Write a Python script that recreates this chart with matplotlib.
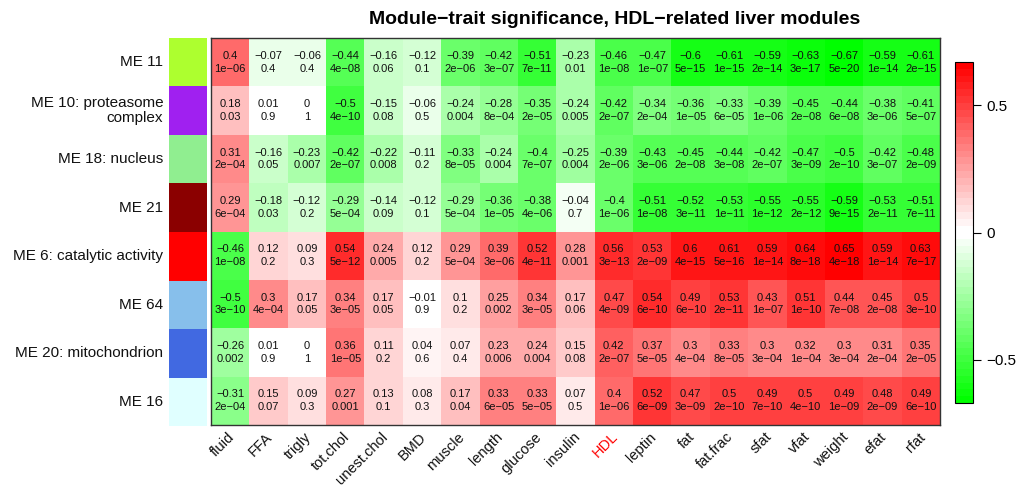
import numpy as np
import matplotlib
matplotlib.use("Agg")
import matplotlib.pyplot as plt
from matplotlib.colors import ListedColormap, Normalize

plt.rcParams['font.family'] = ['Liberation Sans', 'DejaVu Sans']

modules = ["ME 11", "ME 10: proteasome\ncomplex", "ME 18: nucleus", "ME 21",
           "ME 6: catalytic activity", "ME 64", "ME 20: mitochondrion", "ME 16"]
module_colors = ["#ADFF2F", "#A020F0", "#90EE90", "#8B0000",
                 "#FF0000", "#87BFEB", "#4169E1", "#E0FFFF"]
traits = ["fluid", "FFA", "trigly", "tot.chol", "unest.chol", "BMD", "muscle",
          "length", "glucose", "insulin", "HDL", "leptin", "fat", "fat.frac",
          "sfat", "vfat", "weight", "efat", "rfat"]

cor_me11 = [0.4, -0.07, -0.06, -0.44, -0.16, -0.12, -0.39, -0.42, -0.51, -0.23,
            -0.46, -0.47, -0.6, -0.61, -0.59, -0.63, -0.67, -0.59, -0.61]
cor_me10 = [0.18, 0.01, 0, -0.5, -0.15, -0.06, -0.24, -0.28, -0.35, -0.24,
            -0.42, -0.34, -0.36, -0.33, -0.39, -0.45, -0.44, -0.38, -0.41]
cor_me18 = [0.31, -0.16, -0.23, -0.42, -0.22, -0.11, -0.33, -0.24, -0.4, -0.25,
            -0.39, -0.43, -0.45, -0.44, -0.42, -0.47, -0.5, -0.42, -0.48]
cor_me21 = [0.29, -0.18, -0.12, -0.29, -0.14, -0.12, -0.29, -0.36, -0.38, -0.04,
            -0.4, -0.51, -0.52, -0.53, -0.55, -0.55, -0.59, -0.53, -0.51]
cor_me6 = [-0.46, 0.12, 0.09, 0.54, 0.24, 0.12, 0.29, 0.39, 0.52, 0.28,
           0.56, 0.53, 0.6, 0.61, 0.59, 0.64, 0.65, 0.59, 0.63]
cor_me64 = [-0.5, 0.3, 0.17, 0.34, 0.17, -0.01, 0.1, 0.25, 0.34, 0.17,
            0.47, 0.54, 0.49, 0.53, 0.43, 0.51, 0.44, 0.45, 0.5]
cor_me20 = [-0.26, 0.01, 0, 0.36, 0.11, 0.04, 0.07, 0.23, 0.24, 0.15,
            0.42, 0.37, 0.3, 0.33, 0.3, 0.32, 0.3, 0.31, 0.35]
cor_me16 = [-0.31, 0.15, 0.09, 0.27, 0.13, 0.08, 0.17, 0.33, 0.33, 0.07,
            0.4, 0.52, 0.47, 0.5, 0.49, 0.5, 0.49, 0.48, 0.49]

p_me11 = [1e-06, 0.4, 0.4, 4e-08, 0.06, 0.1, 2e-06, 3e-07, 7e-11, 0.01,
          1e-08, 1e-07, 5e-15, 1e-15, 2e-14, 3e-17, 5e-20, 1e-14, 2e-15]
p_me10 = [0.03, 0.9, 1, 4e-10, 0.08, 0.5, 0.004, 8e-04, 2e-05, 0.005,
          2e-07, 2e-04, 1e-05, 6e-05, 1e-06, 2e-08, 6e-08, 3e-06, 5e-07]
p_me18 = [2e-04, 0.05, 0.007, 2e-07, 0.008, 0.2, 8e-05, 0.004, 7e-07, 0.004,
          2e-06, 3e-06, 2e-08, 3e-08, 2e-07, 3e-09, 2e-10, 3e-07, 2e-09]
p_me21 = [6e-04, 0.03, 0.2, 5e-04, 0.09, 0.1, 5e-04, 1e-05, 4e-06, 0.7,
          1e-06, 1e-08, 3e-11, 1e-11, 1e-12, 2e-12, 9e-15, 2e-11, 7e-11]
p_me6 = [1e-08, 0.2, 0.3, 5e-12, 0.005, 0.2, 5e-04, 3e-06, 4e-11, 0.001,
         3e-13, 2e-09, 4e-15, 5e-16, 1e-14, 8e-18, 4e-18, 1e-14, 7e-17]
p_me64 = [3e-10, 4e-04, 0.05, 3e-05, 0.05, 0.9, 0.2, 0.002, 3e-05, 0.06,
          4e-09, 6e-10, 6e-10, 2e-11, 1e-07, 1e-10, 7e-08, 2e-08, 3e-10]
p_me20 = [0.002, 0.9, 1, 1e-05, 0.2, 0.6, 0.4, 0.006, 0.004, 0.08,
          2e-07, 5e-05, 4e-04, 8e-05, 3e-04, 1e-04, 3e-04, 2e-04, 2e-05]
p_me16 = [2e-04, 0.07, 0.3, 0.001, 0.1, 0.3, 0.04, 6e-05, 5e-05, 0.5,
          1e-06, 6e-09, 3e-09, 2e-10, 7e-10, 4e-10, 1e-09, 2e-09, 6e-10]

cor = np.array([cor_me11, cor_me10, cor_me18, cor_me21,
                cor_me6, cor_me64, cor_me20, cor_me16])
pval = np.array([p_me11, p_me10, p_me18, p_me21,
                 p_me6, p_me64, p_me20, p_me16])


def fmt_cor(c):
    return f"{c:g}".replace("-", "\u2212")


def fmt_p(p):
    s = f"{p:g}" if p >= 1e-3 else f"{p:.0e}"
    return s.replace("-", "\u2212")


# green - white - red palette, 50 steps
n = 50
half = n // 2
red = np.r_[np.linspace(0, 1, half), np.ones(half)]
green = np.r_[np.ones(half), np.linspace(1, 0, half)]
blue = np.r_[np.linspace(0, 1, half), np.linspace(1, 0, half)]
cmap = ListedColormap(np.c_[red, green, blue])
zmax = 0.67
norm = Normalize(-zmax, zmax)

W, H = 1022, 487
fig = plt.figure(figsize=(W / 100, H / 100), dpi=100)


def px_axes(x0, y0, x1, y1):
    return fig.add_axes([x0 / W, 1 - y1 / H, (x1 - x0) / W, (y1 - y0) / H])


nr, nc = cor.shape

# heatmap
ax = px_axes(211, 38, 940, 425)
ax.pcolormesh(np.arange(nc + 1), np.arange(nr + 1), cor, cmap=cmap, norm=norm)
ax.set_xlim(0, nc)
ax.set_ylim(nr, 0)
ax.set_xticks([])
ax.set_yticks([])
for s in ax.spines.values():
    s.set_color("#333333")
    s.set_linewidth(1.0)
for i in range(nr):
    for j in range(nc):
        ax.text(j + 0.5, i + 0.5, fmt_cor(cor[i, j]) + "\n" + fmt_p(pval[i, j]),
                ha="center", va="center", fontsize=8, linespacing=1.35,
                color="#111111")
for j, t in enumerate(traits):
    ax.text(j + 0.55, nr + 0.2, t, rotation=45, rotation_mode="anchor",
            ha="right", va="center", fontsize=10.5,
            color="red" if t == "HDL" else "#111111")

# module colour strip
axm = px_axes(169, 38, 207, 426)
axm.pcolormesh(np.arange(2), np.arange(nr + 1),
               np.arange(nr).reshape(-1, 1), cmap=ListedColormap(module_colors),
               vmin=-0.5, vmax=nr - 0.5)
axm.set_xlim(0, 1)
axm.set_ylim(nr, 0)
axm.axis("off")
for i, m in enumerate(modules):
    axm.text(-0.15, i + 0.5, m, ha="right", va="center", fontsize=11,
             linespacing=1.1, color="#111111")

fig.text(615 / W, 1 - 19 / H,
         "Module\u2212trait significance, HDL\u2212related liver modules",
         ha="center", va="center", fontsize=14, fontweight="bold")

# colour bar
cax = px_axes(955, 62, 973, 403)
sm = plt.cm.ScalarMappable(cmap=cmap, norm=norm)
cb = fig.colorbar(sm, cax=cax, ticks=[-0.5, 0, 0.5])
cb.ax.set_yticklabels(["\u22120.5", "0", "0.5"])
cb.ax.tick_params(labelsize=11, length=6, width=0.8)
cb.outline.set_linewidth(0.8)

fig.savefig("out.png", dpi=100)
